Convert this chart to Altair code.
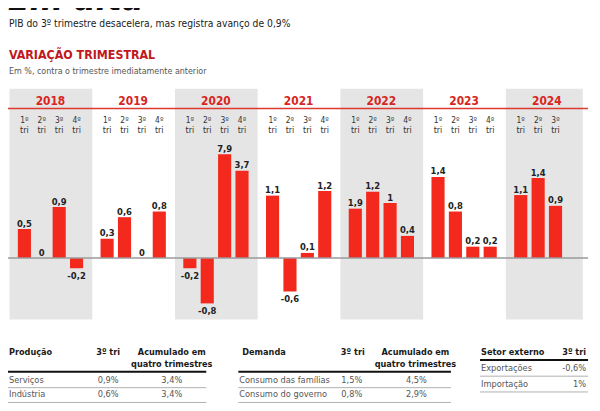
import altair as alt
import pandas as pd

# ---------------- data ----------------
years = [2018, 2019, 2020, 2021, 2022, 2023, 2024]
quarters_per_year = [4, 4, 4, 4, 4, 4, 3]
# published quarter-on-quarter growth (%), as labelled
growth = [0.5, 0, 0.9, -0.2,
          0.3, 0.6, 0, 0.8,
          -0.2, -0.8, 7.9, 3.7,
          1.1, -0.6, 0.1, 1.2,
          1.9, 1.2, 1.0, 0.4,
          1.4, 0.8, 0.2, 0.2,
          1.1, 1.4, 0.9]
# bar lengths as drawn in the graphic (big 2020 bars are shortened)
drawn = [0.51, 0, 0.90, -0.18,
         0.34, 0.72, 0, 0.82,
         -0.18, -0.80, 1.83, 1.54,
         1.10, -0.59, 0.09, 1.18,
         0.87, 1.17, 0.97, 0.39,
         1.43, 0.82, 0.20, 0.20,
         1.11, 1.41, 0.92]

prod_names = ["Serviços", "Indústria"]
prod_tri = ["0,9%", "0,6%"]
prod_acc = ["3,4%", "3,4%"]
dem_names = ["Consumo das famílias", "Consumo do governo"]
dem_tri = ["1,5%", "0,8%"]
dem_acc = ["4,5%", "2,9%"]
ext_names = ["Exportações", "Importação"]
ext_tri = ["-0,6%", "1%"]

# ---------------- tables for the library ----------------
rows = []
k = 0
for yi, (yr, nq) in enumerate(zip(years, quarters_per_year)):
    for q in range(nq):
        v = growth[k]
        rows.append({"year": str(yr), "yi": yi, "q": q, "growth": v,
                     "drawn": drawn[k],
                     "label": f"{v:g}".replace(".", ","),
                     "qlab": f"{q + 1}º"})
        k += 1
df_q = pd.DataFrame(rows)
df_y = pd.DataFrame({"year": [str(y) for y in years], "yi": list(range(len(years)))})
one = pd.DataFrame({"k": [0]})

FONT = "DejaVu Sans Condensed, DejaVu Sans, sans-serif"
W, H = 592, 403
RED_BAR = "#f2291c"
RED_TXT = "#d7261e"

XS = alt.Scale(domain=[-0.1386, 6.8017], nice=False, zero=False)
YS = alt.Scale(domain=[-2.649, 4.360], nice=False, zero=False)

# ---------------- bar panel ----------------
bands = alt.Chart(df_y).transform_filter("datum.yi % 2 == 0").transform_calculate(
    x0="datum.yi - 0.18", x1="min(datum.yi + 0.82, 6.75)"
).mark_rect(color="#e5e5e5", clip=True).encode(
    x=alt.X("x0:Q", scale=XS, axis=None), x2="x1:Q",
    y=alt.value(79), y2=alt.value(313))

red_line = alt.Chart(one).mark_rule(color="#dc3a2e", strokeWidth=1.5).encode(
    x=alt.value(0), x2=alt.value(588), y=alt.value(99))

year_lab = alt.Chart(df_y).transform_calculate(xc="datum.yi + 0.315").mark_text(
    font=FONT, fontSize=12, fontWeight="bold", color=RED_TXT, baseline="alphabetic"
).encode(x=alt.X("xc:Q", scale=XS, axis=None), y=alt.value(96), text="year:N")

qbase = alt.Chart(df_q).transform_calculate(u="datum.yi + datum.q * 0.2102")
q_num = qbase.mark_text(font=FONT, fontSize=8.5, color="#333333", baseline="alphabetic").encode(
    x=alt.X("u:Q", scale=XS, axis=None), y=alt.value(114), text="qlab:N")
q_tri = qbase.mark_text(font=FONT, fontSize=9, color="#333333", baseline="alphabetic",
                        text="tri").encode(
    x=alt.X("u:Q", scale=XS, axis=None), y=alt.value(123.5))

zero_line = alt.Chart(one).mark_rule(color="#9a9a9a", strokeWidth=1.5).encode(
    x=alt.value(0), x2=alt.value(588), y=alt.YDatum(0, scale=YS, axis=None))

bars = qbase.mark_bar(size=13.3, color=RED_BAR).encode(
    x=alt.X("u:Q", scale=XS, axis=None),
    y=alt.Y("drawn:Q", scale=YS, axis=None),
    y2=alt.datum(0))

lab_pos = qbase.transform_filter("datum.drawn >= 0").mark_text(
    font=FONT, fontSize=9.5, fontWeight="bold", color="#222222", baseline="alphabetic", dy=-2.5
).encode(x=alt.X("u:Q", scale=XS, axis=None), y=alt.Y("drawn:Q", scale=YS, axis=None), text="label:N")
lab_neg = qbase.transform_filter("datum.drawn < 0").mark_text(
    font=FONT, fontSize=9.5, fontWeight="bold", color="#222222", baseline="top", dy=3
).encode(x=alt.X("u:Q", scale=XS, axis=None), y=alt.Y("drawn:Q", scale=YS, axis=None), text="label:N")

panel = alt.layer(bands, red_line, year_lab, q_num, q_tri, bars, zero_line, lab_pos, lab_neg)

# ---------------- titles ----------------
def txt(s, x, y, size, color, weight="normal", style="normal", align="left"):
    return alt.Chart(one).mark_text(
        text=s, font=FONT, fontSize=size, color=color, fontWeight=weight,
        fontStyle=style, align=align, baseline="alphabetic"
    ).encode(x=alt.value(x), y=alt.value(y))

titles = [
    txt("Em alta", 0, -1, 36, "#111111", weight="bold", style="italic"),
    txt("PIB do 3º trimestre desacelera, mas registra avanço de 0,9%", 1, 17, 10.4, "#1a1a1a"),
    txt("VARIAÇÃO TRIMESTRAL", 1, 49, 12.5, "#c0181c", weight="bold"),
    txt("Em %, contra o trimestre imediatamente anterior", 1, 64.5, 9, "#555555"),
]

# ---------------- tables ----------------
def rule_v(x0, x1, y, color, w):
    return alt.Chart(one).mark_rule(color=color, strokeWidth=w).encode(
        x=alt.value(x0), x2=alt.value(x1), y=alt.value(y))


def table(names, cols, x_left, x_right, col_x, col_align, heads, y_rows, line_off):
    n = len(names)
    d = {"r": list(range(n)), "name": names}
    for i, c in enumerate(cols):
        d[f"c{i}"] = c
    df = pd.DataFrame(d)
    ys = alt.Scale(domain=[0, 1], range=list(y_rows))
    base = alt.Chart(df)
    layers = []
    for h in heads:
        layers.append(txt(h[0], h[1], h[2], 9.2, "#1a1a1a", weight="bold", align=h[3]))
    layers.append(rule_v(x_left, x_right, heads[-1][4], "#111111", 2))
    layers.append(base.transform_calculate(rl=f"datum.r + {line_off}").mark_rule(
        color="#b0b0b0", strokeWidth=1).encode(
        x=alt.value(x_left), x2=alt.value(x_right),
        y=alt.Y("rl:Q", scale=ys, axis=None)))
    layers.append(base.mark_text(font=FONT, fontSize=9.3, color="#555555", align="left",
                                 baseline="alphabetic").encode(
        x=alt.value(x_left + 1), y=alt.Y("r:Q", scale=ys, axis=None), text="name:N"))
    for i, (cx, al) in enumerate(zip(col_x, col_align)):
        layers.append(base.mark_text(font=FONT, fontSize=9.3, color="#555555", align=al,
                                     baseline="alphabetic").encode(
            x=alt.value(cx), y=alt.Y("r:Q", scale=ys, axis=None), text=f"c{i}:N"))
    return alt.layer(*layers)

t1 = table(prod_names, [prod_tri, prod_acc], 0, 201, [101.5, 166], ["center", "center"],
           [("Produção", 1, 349, "left", 366),
            ("3º tri", 101.5, 349, "center", 366),
            ("Acumulado em", 166, 349, "center", 366),
            ("quatro trimestres", 166, 361, "center", 366)],
           (377, 392), 0.34)
t2 = table(dem_names, [dem_tri, dem_acc], 233.5, 449, [348.5, 414], ["center", "center"],
           [("Demanda", 237.5, 349, "left", 366),
            ("3º tri", 349.5, 349, "center", 366),
            ("Acumulado em", 413, 349, "center", 366),
            ("quatro trimestres", 413, 361, "center", 366)],
           (377, 392), 0.34)
t3 = table(ext_names, [ext_tri], 478.5, 588, [586], ["right"],
           [("Setor externo", 479.5, 349, "left", 354),
            ("3º tri", 586, 349, "right", 354)],
           (365.5, 381.5), 0.31)

chart = alt.layer(panel, *titles, t1, t2, t3).resolve_scale(
    x="independent", y="independent"
).properties(
    width=W, height=H, padding=0,
    autosize=alt.AutoSizeParams(type="none"),
    background="white",
).configure_view(stroke=None)

chart.save("out.html", embed_options={"renderer": "svg", "actions": False})
